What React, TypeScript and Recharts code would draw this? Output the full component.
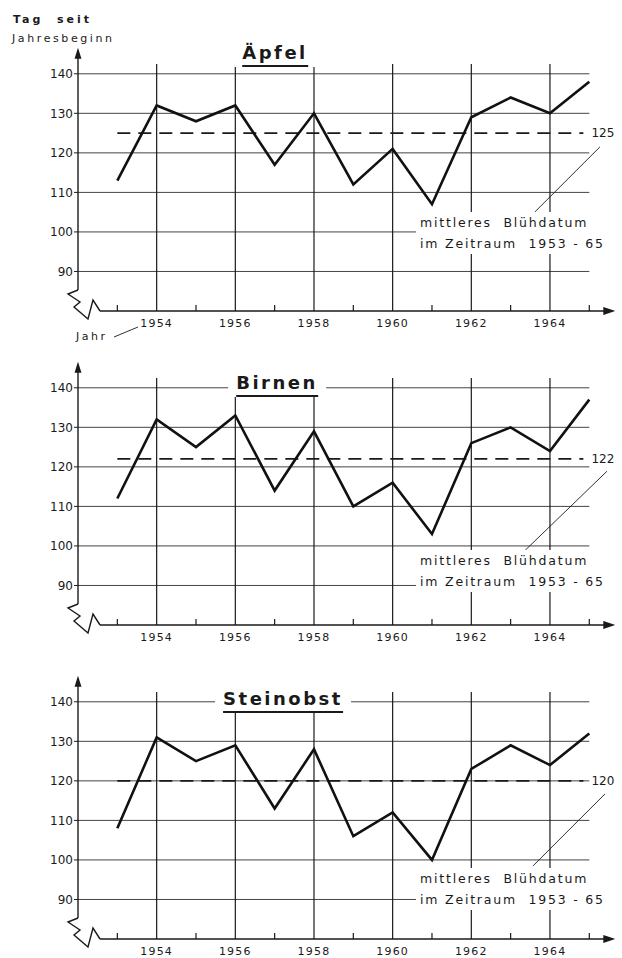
import React from "react";
import { LineChart, Line, XAxis, YAxis, ReferenceLine } from "recharts";

// Blühbeginn (Tag seit Jahresbeginn), 1953-65
const years = [1953, 1954, 1955, 1956, 1957, 1958, 1959, 1960, 1961, 1962, 1963, 1964, 1965];
const aepfel = [113, 132, 128, 132, 117, 130, 112, 121, 107, 129, 134, 130, 138];
const birnen = [112, 132, 125, 133, 114, 129, 110, 116, 103, 126, 130, 124, 137];
const steinobst = [108, 131, 125, 129, 113, 128, 106, 112, 100, 123, 129, 124, 132];
const means = [125, 122, 120];
const titles = ["Äpfel", "Birnen", "Steinobst"];
const yTicks = [90, 100, 110, 120, 130, 140];
const labelYears = [1954, 1956, 1958, 1960, 1962, 1964];
const oddYears = [1953, 1955, 1957, 1959, 1961, 1963, 1965];

const series = [aepfel, birnen, steinobst];

// layout
const FONT = "'DejaVu Sans', sans-serif";
const INK = "#1a1a1a";
const GRID = "#444";
const panelTop = [0, 314, 628];
const titleY = [54, 70, 72];
const titleX = [275, 277, 283];
const noteY = [223, 247, 251];
const leader = [
  [[1965.27, 121.5], [1963.62, 105.1]],
  [[1965.45, 118.9], [1963.37, 98.9]],
  [[1965.4, 116.7], [1963.57, 98.5]],
];
const PLOT_LEFT = 78;
const PLOT_RIGHT = 607;
const BASE = 311;

function Panel({ idx }: { idx: number }) {
  const data = years.map((y, i) => ({ year: y, v: series[idx][i] }));
  const m = means[idx];
  const ld = leader[idx];
  return (
    <div style={{ position: "absolute", left: 0, top: panelTop[idx] }}>
      <LineChart width={622} height={345} data={data} margin={{ top: 56, right: 15, bottom: 10, left: 38 }}>
        <XAxis
          type="number"
          dataKey="year"
          domain={[1952, 1965.45]}
          ticks={labelYears}
          tickLine={false}
          axisLine={false}
          tickMargin={2}
          height={24}
          allowDataOverflow
          tick={{ fontSize: 11, fill: INK, fontFamily: FONT, letterSpacing: 1.2 }}
        />
        <YAxis
          type="number"
          domain={[80, 144.5]}
          ticks={yTicks}
          width={40}
          axisLine={false}
          tickSize={4}
          tickMargin={1}
          allowDataOverflow
          tickLine={{ stroke: INK }}
          tick={{ fontSize: 12, fill: INK, fontFamily: FONT }}
        />
        {yTicks.map((t) => (
          <ReferenceLine key={"h" + t} segment={[{ x: 1952, y: t }, { x: 1965, y: t }]} stroke={GRID} strokeWidth={1} />
        ))}
        {labelYears.map((yr) => (
          <ReferenceLine key={"v" + yr} segment={[{ x: yr, y: 80 }, { x: yr, y: 142.5 }]} stroke={INK} strokeWidth={1.2} />
        ))}
        {oddYears.map((yr) => (
          <ReferenceLine key={"o" + yr} segment={[{ x: yr, y: 80 }, { x: yr, y: 81.5 }]} stroke={INK} strokeWidth={1.2} />
        ))}
        <ReferenceLine
          segment={[{ x: 1953, y: m }, { x: 1964.85, y: m }]}
          stroke={INK}
          strokeWidth={1.8}
          strokeDasharray="13 8"
          label={{ value: String(m), position: "right", offset: 8, fontSize: 12, fill: INK, fontFamily: FONT }}
        />
        <ReferenceLine
          segment={[{ x: ld[0][0], y: ld[0][1] }, { x: ld[1][0], y: ld[1][1] }]}
          stroke={INK}
          strokeWidth={0.9}
          ifOverflow="visible"
        />
        <Line type="linear" dataKey="v" stroke="#111" strokeWidth={2.6} dot={false} isAnimationActive={false} />
      </LineChart>
    </div>
  );
}

function Axes({ o }: { o: number }) {
  const B = o + BASE;
  const zig = [
    [PLOT_LEFT, B - 21], [68, B - 17], [80, B - 9], [74, B - 4], [88, B + 8], [93, B - 11], [100, B],
  ].map((p) => p.join(",")).join(" ");
  return (
    <g stroke={INK} fill="none" strokeWidth={1.4}>
      <line x1={PLOT_LEFT} y1={o + 56} x2={PLOT_LEFT} y2={B - 21} />
      <polygon points={`${PLOT_LEFT},${o + 50} ${PLOT_LEFT - 2.5},${o + 58} ${PLOT_LEFT + 2.5},${o + 58}`} fill={INK} />
      <polyline points={zig} />
      <line x1={100} y1={B} x2={PLOT_RIGHT} y2={B} />
      <polygon points={`${PLOT_RIGHT + 6},${B} ${PLOT_RIGHT - 3},${B - 3} ${PLOT_RIGHT - 3},${B + 3}`} fill={INK} />
    </g>
  );
}

export default function App() {
  const text: React.CSSProperties = { position: "absolute", fontFamily: FONT, color: INK, whiteSpace: "nowrap" };
  return (
    <div style={{ position: "absolute", left: 0, top: 0, width: 622, height: 958, background: "#fff", overflow: "hidden" }}>
      {[0, 1, 2].map((i) => (
        <Panel key={i} idx={i} />
      ))}
      <svg width={622} height={958} style={{ position: "absolute", left: 0, top: 0 }}>
        {panelTop.map((o) => (
          <Axes key={o} o={o} />
        ))}
        <line x1={114} y1={337} x2={138} y2={327} stroke={INK} strokeWidth={0.9} />
      </svg>

      <div style={{ ...text, left: 13, top: 13, fontSize: 11, fontWeight: "bold", letterSpacing: 3 }}>Tag&nbsp; seit</div>
      <div style={{ ...text, left: 12, top: 32, fontSize: 11, letterSpacing: 2.6 }}>Jahresbeginn</div>
      <div style={{ ...text, left: 76, top: 330, fontSize: 11, letterSpacing: 2.5 }}>Jahr</div>

      {titles.map((t, i) => (
        <div
          key={t}
          style={{
            ...text,
            left: titleX[i],
            top: panelTop[i] + titleY[i] - 12,
            transform: "translateX(-50%)",
            background: "#fff",
            padding: "0 8px",
          }}
        >
          <div style={{ fontSize: 18, fontWeight: "bold", letterSpacing: 2.5, lineHeight: "21px", borderBottom: `2.5px solid ${INK}`, paddingBottom: 2 }}>
            {t}
          </div>
        </div>
      ))}

      {panelTop.map((o, i) => (
        <div
          key={"n" + i}
          style={{ ...text, left: 416, top: o + noteY[i] - 11, fontSize: 12.5, letterSpacing: 1.8, lineHeight: "21px", background: "#fff", padding: "0 4px" }}
        >
          mittleres&nbsp; Blühdatum
          <br />
          im Zeitraum&nbsp; 1953 - 65
        </div>
      ))}
    </div>
  );
}
